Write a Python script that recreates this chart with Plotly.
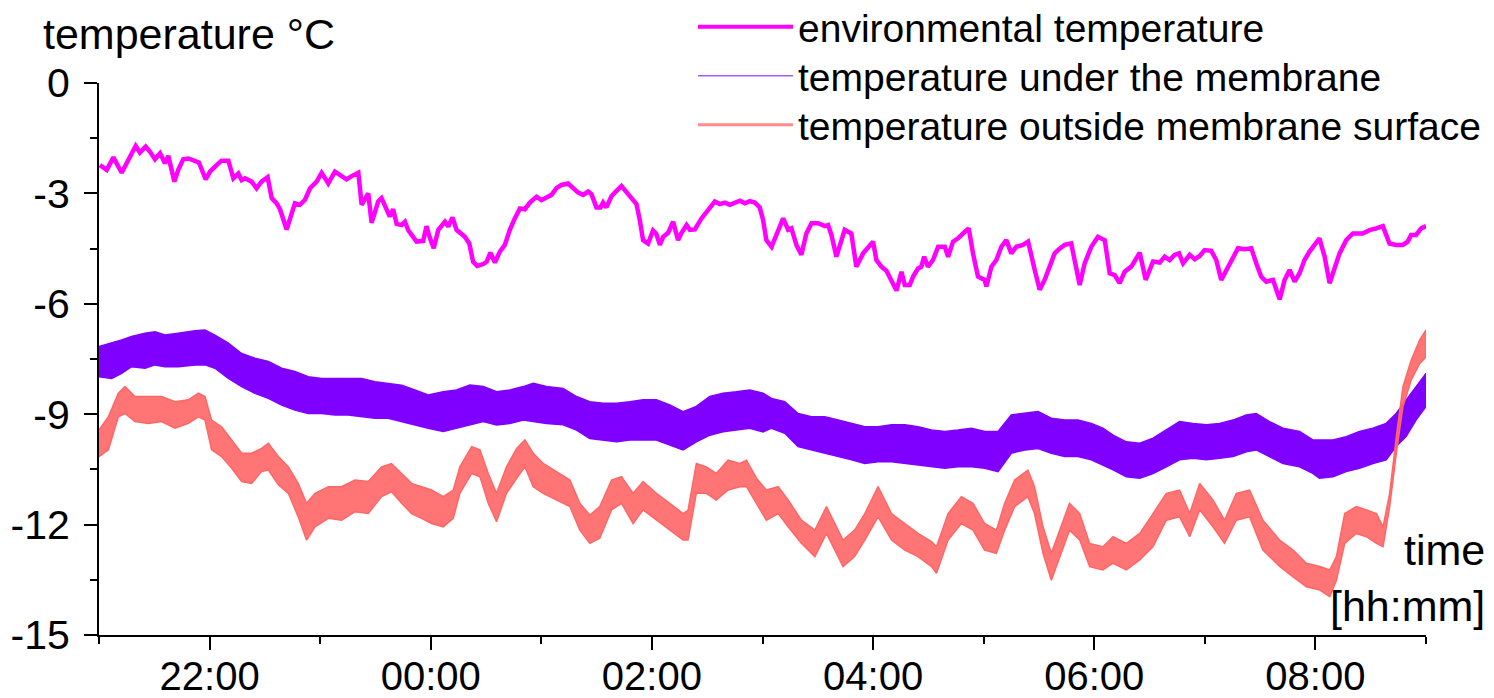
import pandas as pd
import plotly.graph_objects as go

# ---------------- data (minutes after 21:00, temperature in °C) ----------------
ENV_READINGS = [
    (0.5, -2.23), (4.2, -2.36), (7.8, -2.02), (12.3, -2.44), (15.9, -2.09), (19.9, -1.71),
    (22.2, -1.89), (25.3, -1.73), (27.7, -1.87), (30.4, -2.07), (33.1, -1.91), (35.8, -2.18),
    (37.6, -1.98), (40.9, -2.68), (43.0, -2.36), (45.7, -2.07), (48.5, -2.05), (51.2, -2.11),
    (54.2, -2.16), (57.9, -2.62), (60.2, -2.41), (63.8, -2.23), (66.5, -2.11), (70.2, -2.11),
    (72.9, -2.59), (75.6, -2.46), (77.4, -2.64), (79.2, -2.59), (82.8, -2.68), (85.5, -2.86),
    (88.2, -2.68), (91.5, -2.56), (93.7, -3.13), (96.4, -3.27), (98.2, -3.43), (101.8, -3.98),
    (106.3, -3.27), (109.0, -3.31), (111.7, -3.18), (114.5, -2.86), (118.1, -2.68), (120.8, -2.44),
    (124.4, -2.73), (128.0, -2.41), (130.7, -2.50), (134.3, -2.62), (137.1, -2.53), (140.7, -2.44),
    (142.5, -3.31), (146.1, -3.00), (147.9, -3.80), (151.5, -3.22), (153.3, -3.13), (156.0, -3.44),
    (157.8, -3.63), (159.6, -3.43), (161.5, -3.83), (164.2, -3.86), (166.0, -3.77), (167.8, -4.00),
    (170.5, -4.16), (172.3, -4.31), (175.9, -4.29), (177.7, -3.89), (179.6, -4.22), (181.6, -4.49),
    (184.1, -3.99), (187.7, -3.77), (189.5, -3.90), (191.8, -3.65), (194.0, -3.99), (196.7, -4.13),
    (198.5, -4.18), (200.9, -4.36), (203.0, -4.86), (205.2, -4.97), (208.5, -4.92), (210.3, -4.86),
    (212.4, -4.61), (214.8, -4.88), (217.5, -4.58), (220.2, -4.40), (222.9, -3.99), (225.6, -3.68),
    (228.4, -3.41), (231.1, -3.43), (233.8, -3.25), (237.4, -3.09), (240.1, -3.18), (242.8, -3.11),
    (245.5, -3.04), (248.2, -2.86), (250.9, -2.77), (254.5, -2.73), (257.3, -2.84), (260.0, -2.98),
    (262.7, -3.04), (265.4, -2.95), (267.2, -3.02), (269.9, -3.38), (272.1, -3.38), (273.5, -3.25),
    (275.3, -3.38), (278.1, -3.07), (280.8, -2.93), (283.5, -2.80), (285.3, -2.91), (288.0, -3.07),
    (291.6, -3.29), (293.4, -3.72), (295.2, -4.27), (297.9, -4.36), (300.6, -4.01), (302.4, -4.10),
    (304.3, -4.40), (306.1, -4.18), (308.8, -4.07), (311.5, -3.77), (314.2, -4.27), (316.0, -4.08),
    (318.8, -3.86), (320.6, -3.99), (323.3, -3.98), (326.9, -3.68), (330.5, -3.45), (334.1, -3.22),
    (336.8, -3.29), (339.6, -3.25), (342.3, -3.31), (345.0, -3.25), (347.7, -3.20), (350.4, -3.27),
    (353.1, -3.21), (355.8, -3.25), (358.5, -3.38), (360.3, -3.72), (362.1, -4.27), (364.9, -4.45),
    (367.6, -4.09), (371.2, -3.68), (373.9, -3.99), (375.7, -3.95), (378.4, -4.40), (381.1, -4.67),
    (383.8, -4.09), (386.6, -3.81), (390.2, -3.81), (393.8, -3.89), (395.6, -3.86), (397.4, -4.13),
    (400.1, -4.72), (401.9, -4.40), (404.6, -3.99), (408.2, -4.09), (410.9, -4.99), (414.6, -4.63),
    (417.3, -4.49), (420.0, -4.31), (421.8, -4.81), (424.5, -4.99), (427.2, -5.10), (429.9, -5.35),
    (432.7, -5.64), (435.4, -5.13), (437.2, -5.49), (439.9, -5.49), (441.7, -5.26), (444.4, -5.04),
    (446.2, -4.99), (447.7, -4.72), (449.8, -4.99), (452.5, -4.81), (455.3, -4.45), (458.9, -4.45),
    (460.7, -4.72), (463.4, -4.31), (466.1, -4.22), (468.8, -4.09), (471.9, -3.95), (474.2, -4.63),
    (476.9, -5.26), (480.5, -5.35), (481.5, -5.53), (484.2, -4.99), (486.9, -4.81), (489.6, -4.45),
    (492.3, -4.27), (495.0, -4.63), (497.7, -4.45), (501.3, -4.40), (504.1, -4.31), (507.7, -5.08),
    (510.4, -5.62), (513.1, -5.35), (515.8, -4.99), (518.5, -4.63), (520.3, -4.54), (523.9, -4.40),
    (527.5, -4.36), (530.3, -4.99), (532.1, -5.49), (534.8, -4.90), (538.4, -4.45), (542.0, -4.18),
    (545.7, -4.27), (548.4, -5.17), (551.1, -5.22), (553.8, -5.44), (556.5, -5.13), (560.1, -4.99),
    (564.7, -4.61), (567.9, -5.35), (571.9, -4.85), (575.5, -4.88), (578.2, -4.72), (580.9, -4.81),
    (583.6, -4.67), (586.0, -4.63), (588.2, -4.90), (591.8, -4.67), (594.5, -4.79), (597.2, -4.70),
    (599.9, -4.54), (603.5, -4.56), (606.2, -4.81), (608.9, -5.35), (611.6, -5.08), (614.4, -4.81),
    (618.0, -4.49), (621.6, -4.52), (625.2, -4.49), (627.9, -4.90), (630.6, -5.26), (633.3, -5.40),
    (637.0, -5.35), (638.8, -5.62), (640.6, -5.88), (643.3, -5.35), (646.0, -5.08), (648.7, -5.40),
    (651.4, -5.17), (654.1, -4.81), (656.8, -4.58), (662.2, -4.22), (665.0, -4.72), (667.7, -5.44),
    (670.4, -4.99), (673.1, -4.63), (676.7, -4.27), (680.3, -4.09), (685.7, -4.09), (689.3, -4.00),
    (693.0, -3.95), (696.6, -3.89), (700.2, -4.36), (703.8, -4.40), (707.4, -4.40), (710.1, -4.31),
    (711.9, -4.13), (714.6, -4.13), (717.4, -3.95), (720.0, -3.89),
]

# (minute, upper edge of the fluctuating trace, lower edge)
UNDER_READINGS = [
    (0, -7.16, -7.98), (6.9, -7.07, -8.03), (12.3, -6.98, -7.89), (17.7, -6.89, -7.71),
    (25.0, -6.80, -7.75), (30.4, -6.76, -7.66), (35.8, -6.85, -7.71), (43.0, -6.80, -7.71),
    (52.1, -6.73, -7.66), (57.5, -6.71, -7.66), (62.9, -6.85, -7.75), (70.2, -7.07, -8.03),
    (77.4, -7.35, -8.25), (84.6, -7.48, -8.43), (91.9, -7.57, -8.57), (99.1, -7.75, -8.75),
    (106.3, -7.84, -8.89), (113.5, -7.98, -8.98), (120.8, -8.03, -8.98), (128.0, -8.03, -9.02),
    (135.2, -8.03, -9.02), (142.5, -8.03, -9.07), (149.7, -8.12, -9.11), (156.9, -8.16, -9.11),
    (164.2, -8.21, -9.20), (171.4, -8.34, -9.29), (178.6, -8.48, -9.38), (186.8, -8.39, -9.47),
    (194.0, -8.34, -9.38), (201.2, -8.21, -9.29), (208.5, -8.25, -9.20), (215.7, -8.39, -9.29),
    (222.9, -8.34, -9.25), (230.2, -8.25, -9.16), (235.6, -8.16, -9.20), (242.8, -8.25, -9.25),
    (251.8, -8.30, -9.29), (259.1, -8.52, -9.43), (266.3, -8.66, -9.66), (273.5, -8.70, -9.70),
    (280.8, -8.70, -9.75), (288.0, -8.66, -9.70), (295.2, -8.61, -9.70), (302.4, -8.61, -9.70),
    (309.7, -8.75, -9.84), (316.9, -8.93, -9.97), (324.1, -8.79, -9.75), (331.4, -8.52, -9.57),
    (338.6, -8.43, -9.48), (345.8, -8.39, -9.43), (353.1, -8.34, -9.38), (360.3, -8.43, -9.48),
    (364.9, -8.57, -9.38), (372.1, -8.66, -9.52), (379.3, -8.98, -9.88), (386.6, -9.07, -9.97),
    (393.8, -9.07, -10.06), (401.0, -9.16, -10.15), (408.3, -9.25, -10.24), (415.5, -9.34, -10.34),
    (422.7, -9.34, -10.29), (430.0, -9.29, -10.29), (437.2, -9.29, -10.34), (444.4, -9.34, -10.38),
    (451.7, -9.43, -10.43), (458.9, -9.47, -10.47), (466.1, -9.43, -10.43), (473.4, -9.38, -10.43),
    (480.6, -9.47, -10.47), (487.8, -9.47, -10.56), (495.0, -9.02, -10.06), (502.3, -8.98, -9.97),
    (509.5, -8.93, -9.93), (516.7, -9.11, -10.06), (524.0, -9.16, -10.15), (531.2, -9.16, -10.15),
    (538.4, -9.25, -10.24), (544.7, -9.38, -10.38), (550.2, -9.57, -10.51), (557.4, -9.75, -10.70),
    (564.7, -9.79, -10.74), (571.9, -9.65, -10.61), (579.1, -9.43, -10.43), (586.3, -9.20, -10.24),
    (593.6, -9.25, -10.20), (600.8, -9.29, -10.24), (608.0, -9.25, -10.20), (615.3, -9.16, -10.15),
    (622.5, -9.02, -10.02), (627.9, -8.98, -9.97), (635.1, -9.20, -10.15), (642.4, -9.38, -10.34),
    (651.4, -9.47, -10.43), (658.6, -9.70, -10.61), (662.2, -9.70, -10.74), (669.5, -9.70, -10.70),
    (676.7, -9.61, -10.56), (683.9, -9.47, -10.47), (691.2, -9.38, -10.34), (698.4, -9.25, -10.24),
    (703.8, -8.98, -9.88), (709.2, -8.61, -9.61), (714.6, -8.25, -9.16), (720.0, -7.89, -8.79),
]

OUTSIDE_READINGS = [
    (0, -9.43, -10.15), (5.1, -9.07, -9.97), (10.5, -8.43, -9.07), (14.1, -8.25, -8.98),
    (19.5, -8.52, -9.20), (26.8, -8.52, -9.25), (34.0, -8.52, -9.20), (41.2, -8.66, -9.38),
    (48.5, -8.61, -9.25), (53.9, -8.43, -9.07), (57.5, -8.52, -9.16), (61.1, -9.16, -9.97),
    (66.5, -9.34, -10.15), (72.0, -9.70, -10.47), (77.4, -10.06, -10.83), (82.8, -10.06, -10.88),
    (88.2, -9.93, -10.56), (91.9, -9.79, -10.52), (97.3, -10.15, -10.92), (102.7, -10.43, -11.15),
    (108.1, -10.88, -11.79), (112.6, -11.42, -12.42), (117.2, -11.15, -12.06), (124.4, -10.97, -11.83),
    (131.6, -10.97, -11.88), (138.9, -10.79, -11.65), (146.1, -10.83, -11.70), (153.3, -10.43, -11.24),
    (158.7, -10.34, -11.11), (164.2, -10.61, -11.42), (169.6, -10.88, -11.70), (175.0, -10.97, -11.83),
    (180.4, -11.06, -11.97), (186.8, -11.24, -12.06), (192.2, -11.06, -11.83), (195.8, -10.43, -11.15),
    (202.2, -9.88, -10.61), (206.7, -9.97, -10.70), (211.2, -10.61, -11.42), (215.7, -11.15, -11.92),
    (221.1, -10.43, -11.15), (226.6, -9.93, -10.74), (231.1, -9.70, -10.43), (235.6, -10.06, -10.97),
    (241.0, -10.34, -11.15), (248.2, -10.56, -11.33), (255.5, -10.79, -11.51), (260.9, -11.42, -12.15),
    (266.3, -11.74, -12.51), (271.7, -11.51, -12.37), (278.1, -10.79, -11.60), (283.5, -10.70, -11.42),
    (289.8, -11.15, -11.97), (295.2, -10.83, -11.60), (302.4, -11.15, -11.88), (309.7, -11.42, -12.15),
    (316.9, -11.70, -12.42), (319.6, -11.61, -12.42), (324.1, -10.34, -11.15), (329.5, -10.43, -11.15),
    (334.9, -10.61, -11.33), (341.3, -10.25, -11.06), (347.7, -10.34, -10.97), (351.3, -10.25, -10.97),
    (356.7, -10.74, -11.42), (362.1, -11.06, -11.88), (368.5, -10.97, -11.70), (373.9, -11.33, -12.06),
    (381.1, -11.88, -12.51), (388.4, -12.15, -12.87), (394.7, -11.51, -12.24), (398.3, -11.88, -12.60),
    (403.7, -12.42, -13.14), (410.0, -12.15, -12.87), (415.5, -11.70, -12.42), (422.7, -10.97, -11.79),
    (430.0, -11.70, -12.42), (437.2, -11.97, -12.69), (444.4, -12.24, -12.87), (451.7, -12.46, -13.14),
    (454.4, -12.60, -13.32), (460.7, -11.70, -12.42), (467.9, -11.24, -11.97), (474.2, -11.42, -12.15),
    (480.5, -11.97, -12.69), (486.9, -12.15, -12.78), (491.4, -11.42, -12.15), (496.8, -10.79, -11.51),
    (504.0, -10.52, -11.24), (507.6, -10.97, -11.70), (512.2, -12.06, -12.78), (516.7, -12.78, -13.51),
    (521.2, -12.15, -12.87), (526.6, -11.42, -12.15), (532.1, -11.70, -12.42), (537.5, -12.51, -13.14),
    (544.7, -12.60, -13.23), (550.2, -12.33, -13.05), (557.4, -12.51, -13.23), (564.7, -12.24, -12.96),
    (571.9, -11.70, -12.60), (579.1, -11.15, -11.88), (586.3, -11.06, -11.79), (591.8, -11.70, -12.33),
    (597.2, -10.88, -11.60), (604.4, -11.33, -12.06), (610.7, -11.88, -12.51), (617.1, -11.15, -11.88),
    (624.3, -11.06, -11.79), (631.5, -11.88, -12.69), (640.6, -12.42, -13.14), (647.9, -12.69, -13.42),
    (655.1, -13.05, -13.69), (662.4, -13.14, -13.78), (667.8, -13.23, -13.96), (671.4, -12.87, -13.51),
    (675.9, -11.70, -12.51), (682.2, -11.51, -12.24), (687.7, -11.60, -12.33), (693.1, -11.70, -12.51),
    (696.7, -12.06, -12.60), (700.3, -11.15, -11.51), (703.9, -9.61, -10.06), (707.5, -8.25, -8.79),
    (712.0, -7.53, -8.07), (716.6, -6.98, -7.62), (720.0, -6.71, -7.44),
]

SERIES_NAMES = ["environmental temperature",
                "temperature under the membrane",
                "temperature outside membrane surface"]
Y_TICKS = [0, -3, -6, -9, -12, -15]
Y_TICK_TEXT = ["0", "-3", "-6", "-9", "-12", "-15"]
START = pd.Timestamp("2021-01-01 21:00")
END = pd.Timestamp("2021-01-02 09:00")

# ---------------- helpers ----------------
def to_time(minutes):
    return [START + pd.Timedelta(minutes=m) for m in minutes]

def band(readings):
    t = [r[0] for r in readings]
    up = [r[1] for r in readings]
    lo = [r[2] for r in readings]
    xs = to_time(t)
    return xs + xs[::-1], up + lo[::-1]

FONT = "Liberation Sans, Arial, sans-serif"
C_ENV = "#FF00FF"
C_UNDER = "#7F00FF"
C_OUT = "#FF6666"

fig = go.Figure()

# fluctuating traces (drawn as their fluctuation band)
bx, by = band(UNDER_READINGS)
fig.add_trace(go.Scatter(x=bx, y=by, mode="lines", fill="toself",
                         fillcolor=C_UNDER, line=dict(color=C_UNDER, width=1.5),
                         showlegend=False, hoverinfo="skip"))
bx, by = band(OUTSIDE_READINGS)
fig.add_trace(go.Scatter(x=bx, y=by, mode="lines", fill="toself",
                         fillcolor="rgba(255,102,102,0.9)", line=dict(color=C_OUT, width=1.5),
                         showlegend=False, hoverinfo="skip"))

env_t = [r[0] for r in ENV_READINGS]
env_v = [r[1] for r in ENV_READINGS]
fig.add_trace(go.Scatter(x=to_time(env_t), y=env_v, mode="lines",
                         line=dict(color=C_ENV, width=4.5), showlegend=False,
                         hoverinfo="skip"))

# legend entries, one legend box per row so the row spacing matches
LEG_IDS = ["legend", "legend2", "legend3"]
for name, col, w, lg in zip(SERIES_NAMES, ["#FF00FF", "#A35CFF", "#FF8C8C"], [4, 1.5, 3], LEG_IDS):
    fig.add_trace(go.Scatter(x=[None], y=[None], mode="lines", name=name, legend=lg,
                             line=dict(color=col, width=w)))

# page body has an 8 px margin, so the figure is drawn 8 px in from the corner
OFF = 8
W, H = 1494 - OFF, 698 - OFF
PL, PT, PR, PB = 99, 83, 1426, 635          # plot-area edges in page pixels
L, T = PL - OFF, PT - OFF
pw, ph = PR - PL, PB - PT
R, B = W - L - pw, H - T - ph

def px_x(px):
    return (px - PL) / pw

def px_y(py):
    return (PB - py) / ph

def legend_box(row_center):
    return dict(x=px_x(693), y=px_y(row_center - 35), xanchor="left", yanchor="top",
                bgcolor="rgba(0,0,0,0)", borderwidth=0, itemwidth=95,
                font=dict(family=FONT, size=39, color="black"))

fig.update_layout(
    width=W, height=H,
    margin=dict(l=L, r=R, t=T, b=B, pad=0, autoexpand=False),
    paper_bgcolor="white", plot_bgcolor="white",
    font=dict(family=FONT, color="black", size=40),
    showlegend=True,
    legend=legend_box(30),
    legend2=legend_box(79),
    legend3=legend_box(128),
    xaxis=dict(type="date", range=[START, END], showgrid=False, zeroline=False,
               automargin=False,
               showline=True, linecolor="black", linewidth=2,
               ticks="outside", ticklen=13, tickwidth=2, tickcolor="black",
               tick0=START + pd.Timedelta(hours=1), dtick=2 * 3600 * 1000,
               tickformat="%H:%M", ticklabelstandoff=-8,
               tickfont=dict(family=FONT, size=40, color="black"),
               minor=dict(ticks="outside", ticklen=7, tickwidth=2, tickcolor="black",
                          dtick=3600 * 1000, tick0=START)),
    yaxis=dict(range=[-15, 0], showgrid=False, zeroline=False,
               automargin=False,
               showline=True, linecolor="black", linewidth=2,
               ticks="outside", ticklen=13, tickwidth=2, tickcolor="black",
               tickmode="array", tickvals=Y_TICKS, ticktext=Y_TICK_TEXT,
               ticklabelstandoff=6,
               tickfont=dict(family=FONT, size=41, color="black"),
               minor=dict(ticks="outside", ticklen=7, tickwidth=2, tickcolor="black",
                          tickmode="linear", tick0=0, dtick=1.5)),
    annotations=[
        dict(text="temperature °C", xref="paper", yref="paper", x=px_x(42), y=px_y(34),
             xanchor="left", yanchor="middle", showarrow=False, borderpad=0,
             font=dict(family=FONT, size=43, color="black")),
        dict(text="time", xref="paper", yref="paper", x=px_x(1487), y=px_y(550),
             xanchor="right", yanchor="middle", showarrow=False,
             font=dict(family=FONT, size=43, color="black")),
        dict(text="[hh:mm]", xref="paper", yref="paper", x=px_x(1487), y=px_y(606),
             xanchor="right", yanchor="middle", showarrow=False,
             font=dict(family=FONT, size=43, color="black")),
    ],
)

fig.write_html("out.html")
